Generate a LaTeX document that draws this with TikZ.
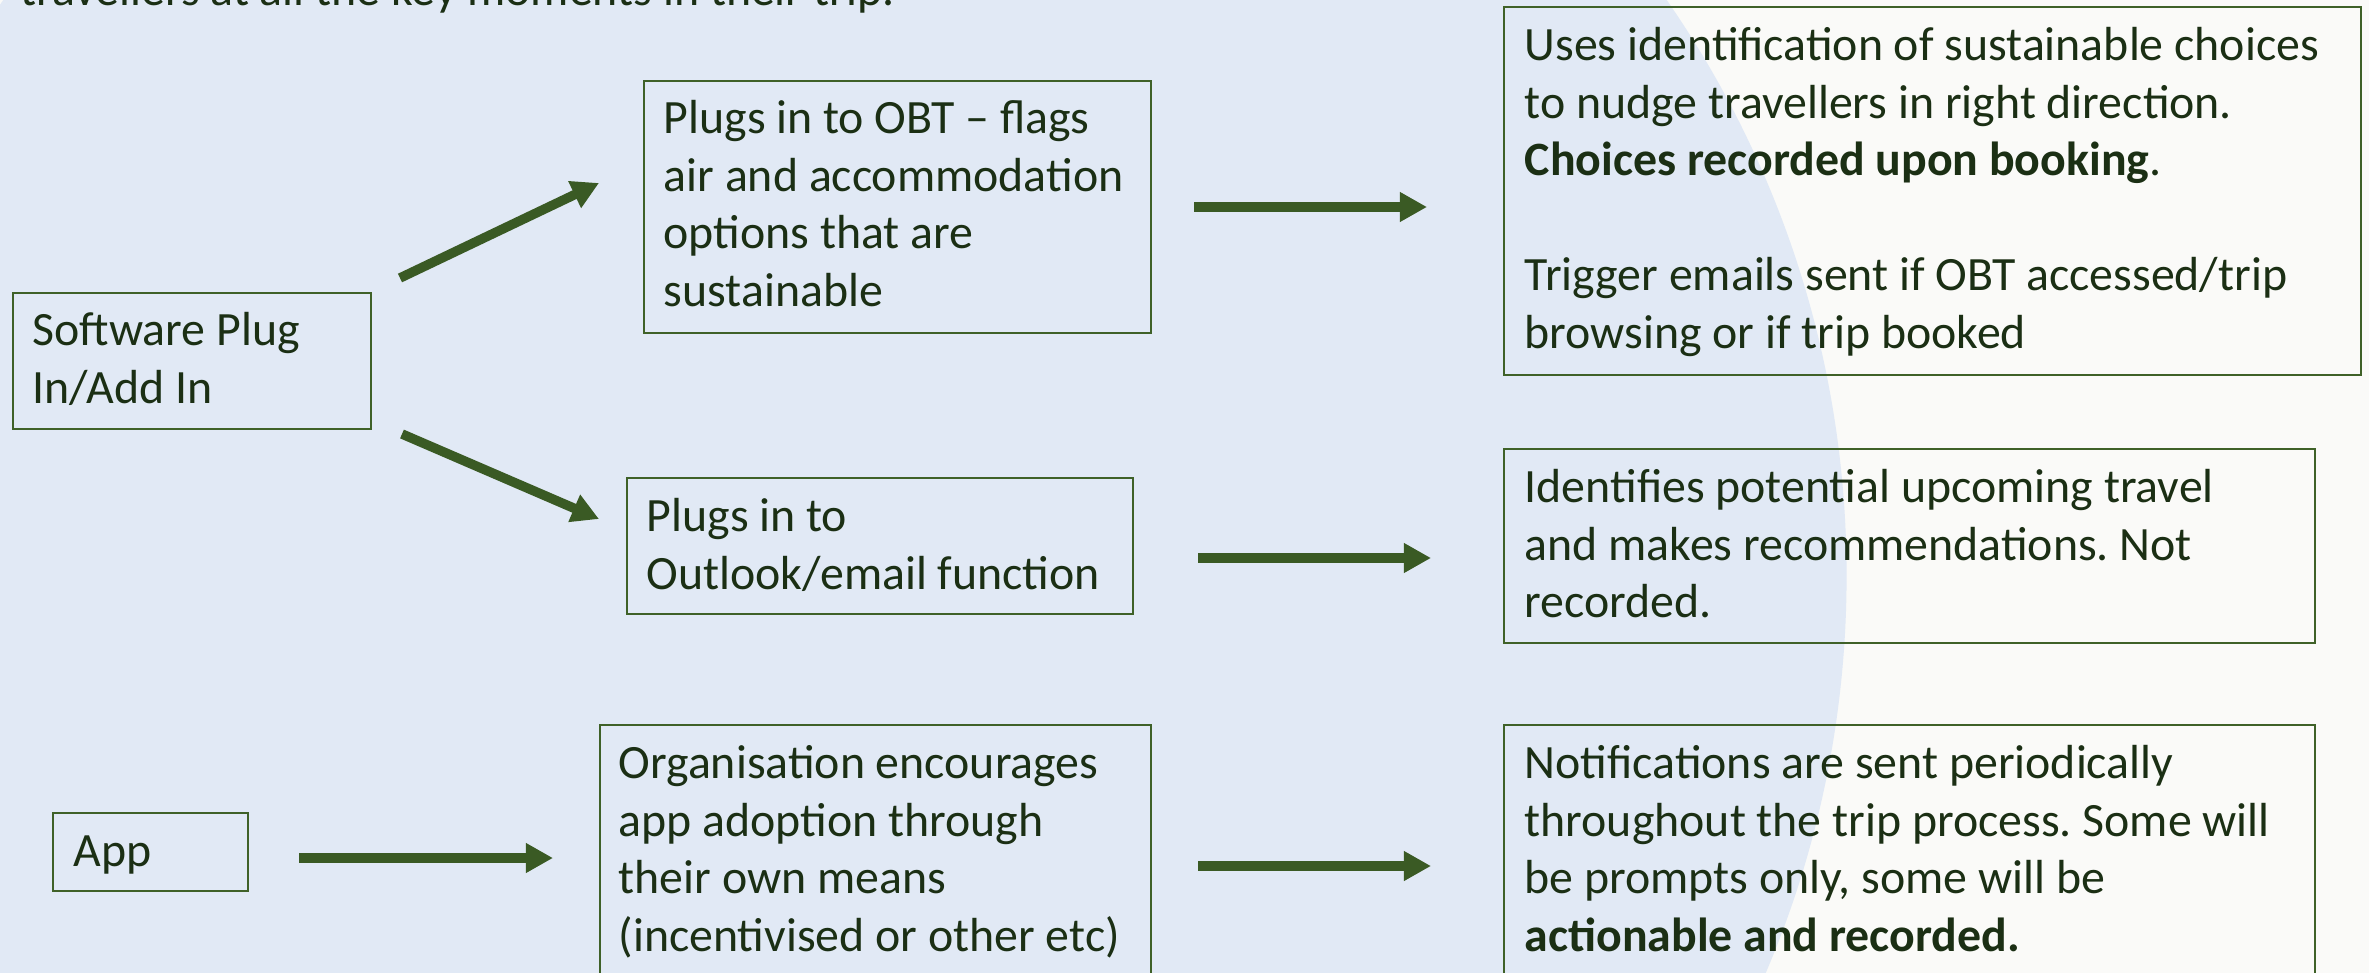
\documentclass[tikz,border=0pt]{standalone}
\usepackage{fontspec}
\setmainfont{Carlito}
\usetikzlibrary{arrows.meta,calc}
\definecolor{bgblue}{HTML}{E1E9F5}
\definecolor{offwhite}{HTML}{FAFAF8}
\definecolor{arrowgreen}{HTML}{3A5A24}
\definecolor{boxgreen}{HTML}{3F6128}
\definecolor{txtgreen}{HTML}{1B2F14}
\newcommand{\fs}{\rule{0pt}{0.40cm}}
\frenchspacing
\tikzset{
  panel/.style={draw=boxgreen, line width=0.02cm, inner sep=0pt, anchor=north west},
  txt/.style={text=txtgreen, font=\fontsize{13.6pt}{16.36pt}\selectfont\frenchspacing, align=left, inner sep=0pt, anchor=north west},
  flow/.style={draw=arrowgreen, line width=0.095cm, -{Triangle[length=0.27cm,width=0.28cm]}}
}
\begin{document}
\begin{tikzpicture}[x=0.01cm,y=-0.01cm]
\useasboundingbox (0,0) rectangle (2369,973);
\clip (0,0) rectangle (2369,973);
\fill[offwhite] (0,0) rectangle (2369,973);
\fill[bgblue] (835,576) circle[radius=10.11cm];

% top text (cut off)
\node[txt] (intro) at (20,-35) {\fs travellers at all the key moments in their trip.};

% boxes
\node[panel, minimum width=3.58cm, minimum height=1.36cm] (A) at (12,292) {};
\node[panel, minimum width=5.07cm, minimum height=2.52cm] (B) at (643,80) {};
\node[panel, minimum width=5.06cm, minimum height=1.36cm] (C) at (626,477) {};
\node[panel, minimum width=1.95cm, minimum height=0.78cm] (D) at (52,812) {};
\node[panel, minimum width=5.51cm, minimum height=3.00cm] (E) at (599,724) {};
\node[panel, minimum width=8.56cm, minimum height=3.68cm] (F) at (1503,6) {};
\node[panel, minimum width=8.11cm, minimum height=1.94cm] (G) at (1503,448) {};
\node[panel, minimum width=8.11cm, minimum height=3.00cm] (H) at (1503,724) {};

% texts
\node[txt] (At) at (32,305) {\fs Software Plug\\In/Add In};
\node[txt] (Bt) at (663,93) {\fs Plugs in to OBT -- flags\\air and accommodation\\options that are\\sustainable};
\node[txt] (Ct) at (646,491) {\fs Plugs in to\\Outlook/email function};
\node[txt] (Dt) at (73,826) {\fs App};
\node[txt] (Et) at (618,738) {\fs Organisation encourages\\app adoption through\\their own means\\(incentivised or other etc)};
\node[txt] (Ft) at (1524,20) {\fs Uses identification of sustainable choices\\to nudge travellers in right direction.\\\textbf{Choices recorded upon booking}.\\[0.575cm]Trigger emails sent if OBT accessed/trip\\browsing or if trip booked};
\node[txt] (Gt) at (1524,462) {\fs Identifies potential upcoming travel\\and makes recommendations. Not\\recorded.};
\node[txt] (Ht) at (1524,738) {\fs Notifications are sent periodically\\throughout the trip process. Some will\\be prompts only, some will be\\\textbf{actionable and recorded.}};

% arrow end points
\coordinate (ab1) at (400,278);
\coordinate (ab2) at (599,183);
\coordinate (ac1) at (402,434);
\coordinate (ac2) at (599,519);
\coordinate (de1) at (299,858);
\coordinate (de2) at (553,858);
\coordinate (bf1) at (1194,207);
\coordinate (bf2) at (1427,207);
\coordinate (cg1) at (1198,558);
\coordinate (cg2) at (1431,558);
\coordinate (eh1) at (1198,866);
\coordinate (eh2) at (1431,866);

\draw[flow] (ab1) -- (ab2);
\draw[flow] (ac1) -- (ac2);
\draw[flow] (de1) -- (de2);
\draw[flow] (bf1) -- (bf2);
\draw[flow] (cg1) -- (cg2);
\draw[flow] (eh1) -- (eh2);
\end{tikzpicture}
\end{document}
